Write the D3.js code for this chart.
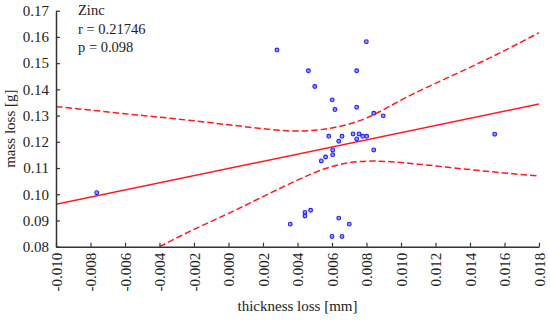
<!DOCTYPE html>
<html>
<head>
<meta charset="utf-8">
<script src="https://cdn.jsdelivr.net/npm/d3@7"></script>
<style>
  body { margin: 0; background: #fff; }
  text { font-family: "Liberation Serif", "Times New Roman", serif; fill: #222; }
</style>
</head>
<body>
<div class="canvas"></div>
<script>
// measured points: thickness loss [mm] vs mass loss [g]
const thickness = [-0.00764, 0.00281, 0.00799, 0.00463, 0.00743, 0.00500, 0.00601, 0.00617, 0.00743, 0.00842, 0.00897,
    0.00581, 0.00658, 0.00639, 0.00722, 0.00757, 0.00743, 0.00778, 0.00801, 0.00604, 0.00604, 0.00563, 0.00538,
    0.00842, 0.00476, 0.00443, 0.00443, 0.00639, 0.00358, 0.00700, 0.00600, 0.00658, 0.01543]
const massLoss = [0.1006, 0.1550, 0.1582, 0.1471, 0.1471, 0.1411, 0.1360, 0.1323, 0.1332, 0.1309, 0.1299,
    0.1221, 0.1221, 0.1202, 0.1230, 0.1230, 0.1211, 0.1221, 0.1221, 0.1169, 0.1151, 0.1142, 0.1127,
    0.1169, 0.0939, 0.0931, 0.0917, 0.0909, 0.0886, 0.0886, 0.0839, 0.0839, 0.1229]

// regression line ends
const fitX = [-0.010, 0.018]
const fitY = [0.0962, 0.1344]

// confidence bands read at the x ticks
const bandX = [-0.010, -0.008, -0.006, -0.004, -0.002, 0.000, 0.002, 0.004, 0.006, 0.008, 0.010, 0.012, 0.014, 0.016, 0.018]
const upperBand = [0.1334, 0.1321, 0.1307, 0.1294, 0.1280, 0.1265, 0.1250, 0.1241, 0.1253, 0.1291, 0.1359, 0.1423, 0.1484, 0.1548, 0.1616]
const lowerBandX = [-0.004, -0.002, 0.000, 0.002, 0.004, 0.006, 0.008, 0.010, 0.012, 0.014, 0.016, 0.018]
const lowerBand = [0.0800, 0.0866, 0.0927, 0.0991, 0.1054, 0.1106, 0.1126, 0.1121, 0.1108, 0.1094, 0.1081, 0.1070]

const xTicks = [-0.010, -0.008, -0.006, -0.004, -0.002, 0.000, 0.002, 0.004, 0.006, 0.008, 0.010, 0.012, 0.014, 0.016, 0.018]
const yTicks = [0.08, 0.09, 0.10, 0.11, 0.12, 0.13, 0.14, 0.15, 0.16, 0.17]
const statLines = ['Zinc', 'r = 0.21746', 'p = 0.098']

const width = 550
const height = 320
const margin = { top: 10.7, right: 11, bottom: 73.3, left: 56 }
const graphWidth = width - margin.left - margin.right
const graphHeight = height - margin.top - margin.bottom

const svg = d3.select('.canvas')
    .append('svg')
    .attr('width', width)
    .attr('height', height)

const graph = svg.append('g')
    .attr('transform', `translate(${margin.left}, ${margin.top})`)

graph.append('clipPath')
    .attr('id', 'plot-clip')
    .append('rect')
    .attr('width', graphWidth)
    .attr('height', graphHeight)

// scales
const x = d3.scaleLinear()
    .domain([-0.010, 0.018])
    .range([0, graphWidth])

const y = d3.scaleLinear()
    .domain([0.08, 0.17])
    .range([graphHeight, 0])

const marks = graph.append('g')
    .attr('clip-path', 'url(#plot-clip)')

// fit line
const fitLine = d3.line()
    .x(d => x(d[0]))
    .y(d => y(d[1]))

marks.append('path')
    .datum(d3.zip(fitX, fitY))
    .attr('d', fitLine)
    .attr('fill', 'none')
    .attr('stroke', '#ff1a1a')
    .attr('stroke-width', 1.5)

// confidence bands
const bandLine = d3.line()
    .x(d => x(d[0]))
    .y(d => y(d[1]))
    .curve(d3.curveNatural)

marks.selectAll('path.band')
    .data([d3.zip(bandX, upperBand), d3.zip(lowerBandX, lowerBand)])
    .enter()
    .append('path')
    .attr('class', 'band')
    .attr('d', bandLine)
    .attr('fill', 'none')
    .attr('stroke', '#ff1a1a')
    .attr('stroke-width', 1.5)
    .attr('stroke-dasharray', '6.5,3')

// points
marks.selectAll('circle')
    .data(d3.zip(thickness, massLoss))
    .enter()
    .append('circle')
    .attr('cx', d => x(d[0]))
    .attr('cy', d => y(d[1]))
    .attr('r', 1.9)
    .attr('fill', '#9a9aff')
    .attr('stroke', '#2020ff')
    .attr('stroke-width', 1.1)

// axes
const xAxis = d3.axisBottom(x)
    .tickValues(xTicks)
    .tickFormat(d => d.toFixed(3))
    .tickSize(-4)
    .tickSizeOuter(0)

const yAxis = d3.axisLeft(y)
    .tickValues(yTicks)
    .tickFormat(d => d.toFixed(2))
    .tickSize(-4)
    .tickSizeOuter(0)
    .tickPadding(7)

const xAxisGroup = graph.append('g')
    .attr('transform', `translate(0, ${graphHeight})`)
    .call(xAxis)

const yAxisGroup = graph.append('g')
    .call(yAxis)

;[xAxisGroup, yAxisGroup].forEach(g => {
    g.select('.domain').attr('stroke', '#333').attr('stroke-width', 1.5)
    g.selectAll('.tick line').attr('stroke', '#333').attr('stroke-width', 1.2)
    g.selectAll('text')
        .attr('fill', '#222')
        .style('font-family', '"Liberation Serif", serif')
        .style('font-size', '15px')
})

xAxisGroup.selectAll('.tick text')
    .attr('transform', 'rotate(-90)')
    .attr('text-anchor', 'end')
    .attr('x', -6)
    .attr('y', 0)
    .attr('dy', '0.35em')

// axis titles
svg.append('text')
    .attr('x', margin.left + graphWidth / 2)
    .attr('y', 311)
    .attr('text-anchor', 'middle')
    .style('font-size', '15px')
    .text('thickness loss [mm]')

svg.append('text')
    .attr('transform', `translate(15, ${margin.top + graphHeight / 2}) rotate(-90)`)
    .attr('text-anchor', 'middle')
    .style('font-size', '15px')
    .text('mass loss [g]')

// stats text
svg.selectAll('text.stat')
    .data(statLines)
    .enter()
    .append('text')
    .attr('class', 'stat')
    .attr('x', 78)
    .attr('y', (d, i) => 15 + i * 18.5)
    .style('font-size', '14.5px')
    .text(d => d)
</script>
</body>
</html>
